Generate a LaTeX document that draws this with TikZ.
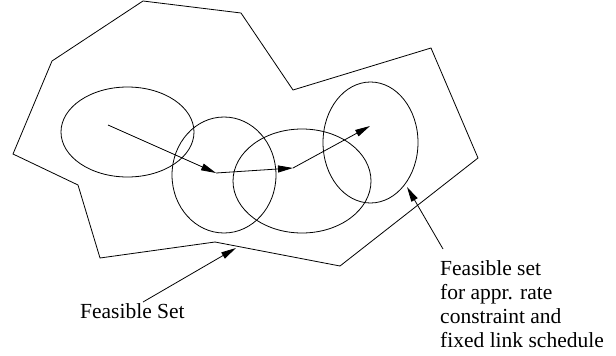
\documentclass[tikz,border=0pt]{standalone}
\usepackage{fontspec}
\setmainfont{Liberation Serif}
\usetikzlibrary{arrows.meta}
\begin{document}
\begin{tikzpicture}[x=1pt,y=-1pt,
  outline/.style={line width=0.8pt, line join=miter},
  oval/.style={line width=0.8pt},
  pointer/.style={line width=0.8pt, -{Triangle[length=15pt,width=7pt]}},
  label/.style={anchor=base west, inner sep=0pt, font=\fontsize{21.5}{24}\selectfont}]
\useasboundingbox (0,0) rectangle (616,356);
% feasible set polygon
\draw[outline] (143,1) -- (241,13) -- (293,90) -- (431,48) -- (478,158) -- (340,266) -- (215,242) -- (100,258) -- (78,185) -- (13,154) -- (52,61) -- cycle;
% ellipses
\draw[oval] (127.5,132) ellipse [x radius=66.5pt, y radius=45pt];
\draw[oval] (224,175) ellipse [x radius=52pt, y radius=58pt];
\draw[oval] (302,181) ellipse [x radius=69pt, y radius=52pt];
\draw[oval] (370.5,142.5) ellipse [x radius=47.5pt, y radius=60.5pt];
% path of iterates
\coordinate (p0) at (108,125);
\coordinate (p1) at (216,173);
\coordinate (p2) at (293,168);
\coordinate (p3) at (370,126);
\draw[pointer] (p0) -- (p1);
\draw[pointer] (p1) -- (p2);
\draw[pointer] (p2) -- (p3);
% labels
\node[label] (fs) at (80,318) {Feasible Set};
\node[label] (r1) at (440,275) {Feasible set};
\node[label] (r2) at (440,299) {for appr. rate};
\node[label] (r3) at (440,323) {constraint and};
\node[label] (r4) at (440,347) {fixed link schedule};
\coordinate (fsa) at (143,302);
\coordinate (fst) at (236,248);
\coordinate (ra) at (443,249);
\coordinate (rt) at (407,187);
\draw[pointer] (fsa) -- (fst);
\draw[pointer] (ra) -- (rt);
\end{tikzpicture}
\end{document}
